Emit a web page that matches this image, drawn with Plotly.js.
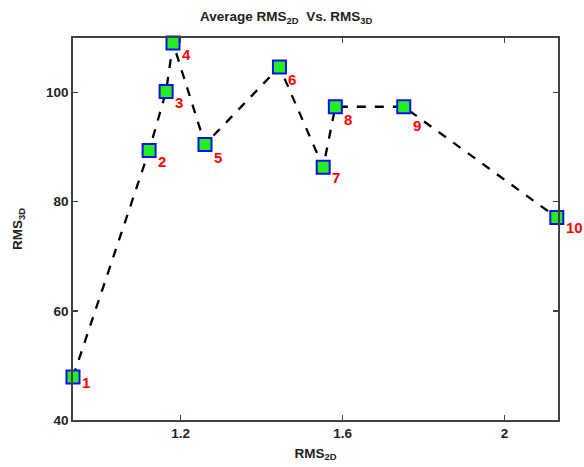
<!DOCTYPE html>
<html>
<head>
<meta charset="utf-8">
<script src="https://cdn.plot.ly/plotly-3.0.1.min.js"></script>
<style>html,body{margin:0;padding:0;background:#fff;}#chart{width:584px;height:467px;}</style>
</head>
<body>
<div id="chart"></div>
<script>
const rms2d = [0.934, 1.122, 1.164, 1.181, 1.260, 1.444, 1.552, 1.582, 1.751, 2.129];
const rms3d = [47.9, 89.4, 100.2, 109.1, 90.5, 104.7, 86.3, 97.4, 97.4, 77.1];
const pointLabels = ['1','2','3','4','5','6','7','8','9','10'];
const xTicks = [1.2, 1.6, 2];
const yTicks = [40, 60, 80, 100];

const fontFam = 'Liberation Sans, Arial, sans-serif';
const axisColor = '#404040';
// label pixel shifts (style only)
const labelDown = [6, 11, 11, 12, 13, 13, 10, 13, 19, 10];

const trace = {
  x: rms2d, y: rms3d,
  mode: 'lines+markers',
  line: {color: '#000', width: 2.3, dash: 'dash'},
  marker: {symbol: 'square', size: 13, color: '#22ee22', line: {color: '#1010ee', width: 2}},
  cliponaxis: false,
  hoverinfo: 'x+y'
};

const annotations = pointLabels.map((t, i) => ({
  x: rms2d[i], y: rms3d[i], xref: 'x', yref: 'y', text: t, showarrow: false,
  xanchor: 'left', yanchor: 'middle', xshift: 7, yshift: -labelDown[i],
  font: {family: fontFam, size: 15, color: '#ff0000', weight: 'bold'}
}));

const layout = {
  width: 584, height: 467,
  margin: {l: 73, r: 26, t: 38, b: 47},
  paper_bgcolor: '#fff', plot_bgcolor: '#fff',
  showlegend: false,
  annotations: annotations,
  font: {family: fontFam, size: 13, color: '#222', weight: 'bold'},
  title: {text: 'Average RMS<sub>2D</sub>  Vs. RMS<sub>3D</sub>', x: 0.49, xanchor: 'center', y: 0.975, yanchor: 'top',
          font: {family: fontFam, size: 13.5, color: '#222', weight: 'bold'}},
  xaxis: {
    range: [0.934, 2.132], tickvals: xTicks, ticktext: xTicks.map(String),
    ticks: 'inside', ticklen: 5, tickcolor: axisColor, tickwidth: 1.5,
    showline: true, linecolor: axisColor, linewidth: 1.8, mirror: 'ticks',
    showgrid: false, zeroline: false,
    tickfont: {family: fontFam, size: 13.5, color: '#222', weight: 'bold'},
    title: {text: 'RMS<sub>2D</sub>', standoff: 8, font: {family: fontFam, size: 13.5, color: '#222', weight: 'bold'}}
  },
  yaxis: {
    range: [40, 110], tickvals: yTicks, ticktext: yTicks.map(String),
    ticks: 'inside', ticklen: 5, tickcolor: axisColor, tickwidth: 1.5,
    showline: true, linecolor: axisColor, linewidth: 1.8, mirror: 'ticks',
    showgrid: false, zeroline: false,
    tickfont: {family: fontFam, size: 13.5, color: '#222', weight: 'bold'},
    title: {text: 'RMS<sub>3D</sub>', standoff: 20, font: {family: fontFam, size: 13.5, color: '#222', weight: 'bold'}}
  }
};

Plotly.newPlot('chart', [trace], layout, {displayModeBar: false, staticPlot: true});
</script>
</body>
</html>
